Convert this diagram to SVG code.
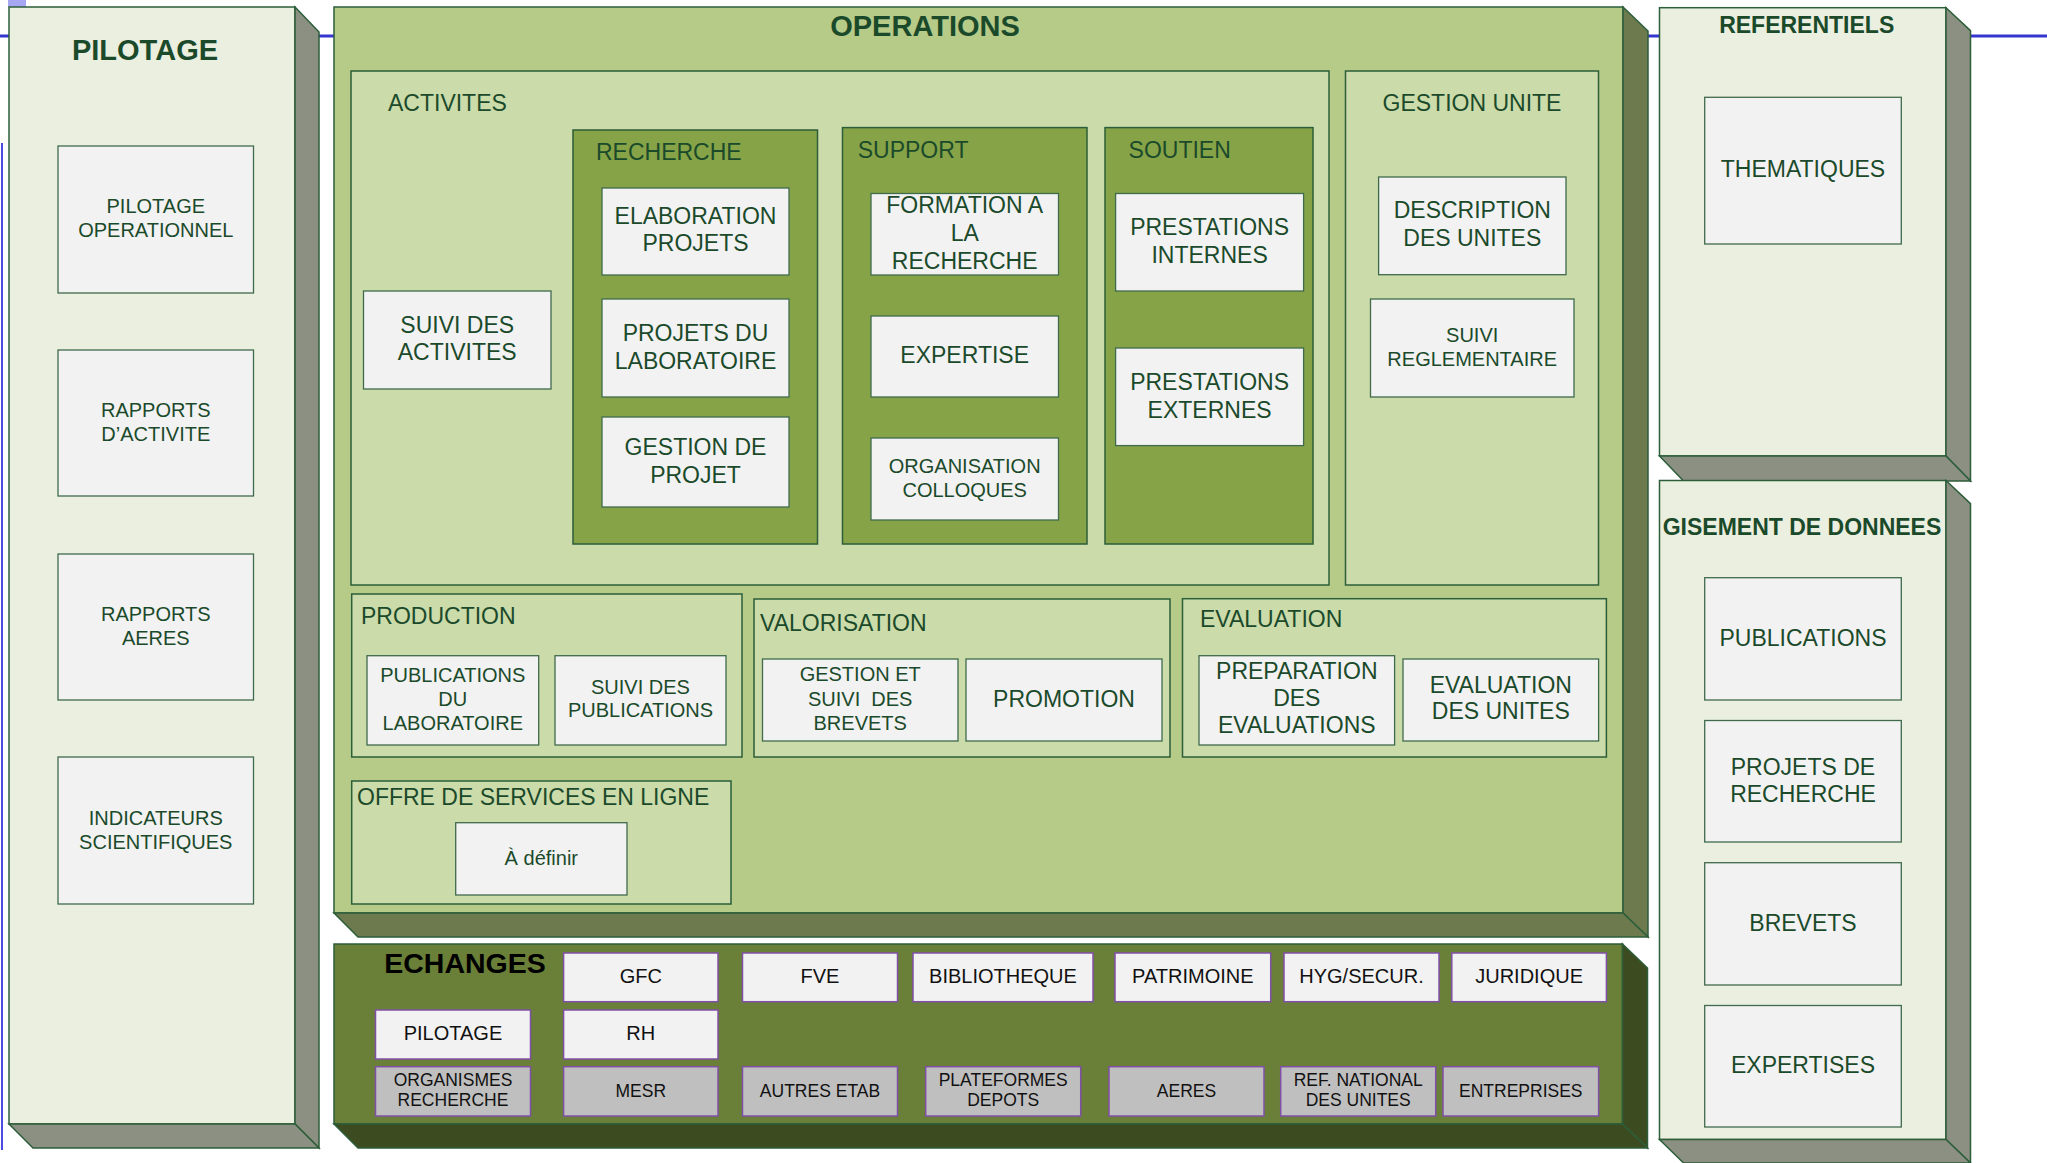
<svg xmlns="http://www.w3.org/2000/svg" width="2047" height="1163" viewBox="0 0 2047 1163">
<style>
text{font-family:"Liberation Sans",Arial,sans-serif;fill:#1B4A2B;text-anchor:middle}
.t{font-weight:bold;font-size:29px}
.t23b{font-weight:bold;font-size:23px}
.lbl{font-size:23px;text-anchor:start}
.f23{font-size:23px}
.f20{font-size:20px}
.e20{font-size:20px;fill:#111}
.e17{font-size:17.5px;fill:#111}
.front1{fill:#EBEFE0;stroke:#2C5E3A;stroke-width:1.5}
.side1{fill:#8C9082;stroke:#2C5E3A;stroke-width:1.5}
.frontO{fill:#B7CB89;stroke:#2C5E3A;stroke-width:1.5}
.sideO{fill:#6C7A4E;stroke:#2C5E3A;stroke-width:1.5}
.frontE{fill:#6A7F37;stroke:#2C5E3A;stroke-width:1.5}
.sideE{fill:#3C4C20;stroke:#2C5E3A;stroke-width:1.5}
.pan{fill:#CBDBA9;stroke:#2C5E3A;stroke-width:1.5}
.dpan{fill:#86A447;stroke:#2C5E3A;stroke-width:1.5}
.box{fill:#F2F2F2;stroke:#3F6B4C;stroke-width:1.3}
.ebox{fill:#F2F2F2;stroke:#8050A8;stroke-width:1.5}
.gbox{fill:#BFBFBF;stroke:#8050A8;stroke-width:1.5}
.blue{stroke:#3535D0;stroke-width:3;fill:none}
</style>

<g id="background-lines">
<rect x="8" y="0" width="18" height="7" fill="#A6A6F2"/>
<line class="blue" x1="0" y1="36" x2="2047" y2="36"/>
<line x1="2" y1="143" x2="2" y2="1150" stroke="#4B4BE0" stroke-width="2"/>
</g>

<g id="pilotage">
<rect class="front1" x="9" y="7" width="286" height="1117"/>
<polygon class="side1" points="295,7 319,32 319,1148 295,1124"/>
<polygon class="side1" points="9,1124 295,1124 319,1148 33,1148"/>
<text class="t" x="145" y="60">PILOTAGE</text>
</g>
<g id="pilotage-operationnel">
<rect class="box" x="58" y="146" width="195.5" height="147"/>
<text class="f20"><tspan x="155.8" y="213">PILOTAGE</tspan><tspan x="155.8" y="237">OPERATIONNEL</tspan></text>
</g>
<g id="rapports-activite">
<rect class="box" x="58" y="350" width="195.5" height="146"/>
<text class="f20"><tspan x="155.8" y="417">RAPPORTS</tspan><tspan x="155.8" y="441">D’ACTIVITE</tspan></text>
</g>
<g id="rapports-aeres">
<rect class="box" x="58" y="554" width="195.5" height="146"/>
<text class="f20"><tspan x="155.8" y="621">RAPPORTS</tspan><tspan x="155.8" y="645">AERES</tspan></text>
</g>
<g id="indicateurs">
<rect class="box" x="58" y="757" width="195.5" height="147"/>
<text class="f20"><tspan x="155.8" y="824.5">INDICATEURS</tspan><tspan x="155.8" y="848.5">SCIENTIFIQUES</tspan></text>
</g>

<g id="operations">
<rect class="frontO" x="334" y="7" width="1289" height="906"/>
<polygon class="sideO" points="1623,7 1648,31 1648,937 1623,913"/>
<polygon class="sideO" points="334,913 1623,913 1648,937 358,937"/>
<text class="t" x="925" y="36">OPERATIONS</text>
</g>

<g id="activites">
<rect class="pan" x="351" y="71" width="978" height="514"/>
<text class="lbl" x="388" y="111">ACTIVITES</text>
</g>
<g id="suivi-activites">
<rect class="box" x="363.5" y="291" width="187.5" height="98"/>
<text class="f23"><tspan x="457.2" y="333">SUIVI DES</tspan><tspan x="457.2" y="360">ACTIVITES</tspan></text>
</g>

<g id="recherche">
<rect class="dpan" x="573" y="130" width="244.5" height="414"/>
<text class="lbl" x="596" y="160">RECHERCHE</text>
</g>
<g id="elaboration-projets">
<rect class="box" x="602" y="188" width="187" height="87"/>
<text class="f23"><tspan x="695.5" y="224">ELABORATION</tspan><tspan x="695.5" y="251">PROJETS</tspan></text>
</g>
<g id="projets-laboratoire">
<rect class="box" x="602" y="299" width="187" height="98"/>
<text class="f23"><tspan x="695.5" y="341">PROJETS DU</tspan><tspan x="695.5" y="368.5">LABORATOIRE</tspan></text>
</g>
<g id="gestion-projet">
<rect class="box" x="602" y="417" width="187" height="90"/>
<text class="f23"><tspan x="695.5" y="455">GESTION DE</tspan><tspan x="695.5" y="482.5">PROJET</tspan></text>
</g>

<g id="support">
<rect class="dpan" x="842.5" y="127.6" width="244.5" height="416.4"/>
<text class="lbl" x="857.7" y="158">SUPPORT</text>
</g>
<g id="formation">
<rect class="box" x="871" y="193.5" width="187.5" height="81.5"/>
<text class="f23"><tspan x="964.7" y="212.6">FORMATION A</tspan><tspan x="964.7" y="241">LA</tspan><tspan x="964.7" y="269">RECHERCHE</tspan></text>
</g>
<g id="expertise">
<rect class="box" x="871" y="316" width="187.5" height="81"/>
<text class="f23"><tspan x="964.7" y="363">EXPERTISE</tspan></text>
</g>
<g id="organisation-colloques">
<rect class="box" x="871" y="438" width="187.5" height="82"/>
<text class="f20"><tspan x="964.7" y="473">ORGANISATION</tspan><tspan x="964.7" y="497">COLLOQUES</tspan></text>
</g>

<g id="soutien">
<rect class="dpan" x="1105" y="127.6" width="208" height="416.4"/>
<text class="lbl" x="1128.6" y="158">SOUTIEN</text>
</g>
<g id="prestations-internes">
<rect class="box" x="1115.6" y="193.5" width="188" height="97.5"/>
<text class="f23"><tspan x="1209.6" y="234.5">PRESTATIONS</tspan><tspan x="1209.6" y="263">INTERNES</tspan></text>
</g>
<g id="prestations-externes">
<rect class="box" x="1115.6" y="348" width="188" height="97.6"/>
<text class="f23"><tspan x="1209.6" y="390">PRESTATIONS</tspan><tspan x="1209.6" y="417.6">EXTERNES</tspan></text>
</g>

<g id="gestion-unite">
<rect class="pan" x="1345.5" y="71" width="253" height="514"/>
<text class="f23" x="1472" y="111">GESTION UNITE</text>
</g>
<g id="description-unites">
<rect class="box" x="1378.6" y="177" width="187.4" height="97.7"/>
<text class="f23"><tspan x="1472.3" y="218">DESCRIPTION</tspan><tspan x="1472.3" y="246">DES UNITES</tspan></text>
</g>
<g id="suivi-reglementaire">
<rect class="box" x="1370.5" y="299" width="203.5" height="98"/>
<text class="f20"><tspan x="1472.2" y="342">SUIVI</tspan><tspan x="1472.2" y="366">REGLEMENTAIRE</tspan></text>
</g>

<g id="production">
<rect class="pan" x="351.7" y="594" width="390.3" height="163"/>
<text class="lbl" x="361" y="624">PRODUCTION</text>
</g>
<g id="publications-laboratoire">
<rect class="box" x="367" y="655.7" width="171.7" height="89.3"/>
<text class="f20"><tspan x="452.8" y="681.7">PUBLICATIONS</tspan><tspan x="452.8" y="705.7">DU</tspan><tspan x="452.8" y="730">LABORATOIRE</tspan></text>
</g>
<g id="suivi-publications">
<rect class="box" x="555" y="655.7" width="171" height="89.3"/>
<text class="f20"><tspan x="640.5" y="694">SUIVI DES</tspan><tspan x="640.5" y="717">PUBLICATIONS</tspan></text>
</g>

<g id="valorisation">
<rect class="pan" x="754" y="599" width="416" height="158"/>
<text class="lbl" x="760" y="630.7">VALORISATION</text>
</g>
<g id="gestion-brevets">
<rect class="box" x="762.5" y="659" width="195.5" height="82"/>
<text class="f20" style="white-space:pre"><tspan x="860.2" y="681">GESTION ET</tspan><tspan x="860.2" y="705.7">SUIVI  DES</tspan><tspan x="860.2" y="730">BREVETS</tspan></text>
</g>
<g id="promotion">
<rect class="box" x="966" y="659" width="196" height="82"/>
<text class="f23" x="1064" y="706.7">PROMOTION</text>
</g>

<g id="evaluation">
<rect class="pan" x="1182.5" y="598.7" width="423.9" height="158.3"/>
<text class="lbl" x="1200" y="627">EVALUATION</text>
</g>
<g id="preparation-evaluations">
<rect class="box" x="1199" y="655.7" width="195.6" height="89.3"/>
<text class="f23"><tspan x="1296.8" y="678.7">PREPARATION</tspan><tspan x="1296.8" y="706">DES</tspan><tspan x="1296.8" y="733">EVALUATIONS</tspan></text>
</g>
<g id="evaluation-unites">
<rect class="box" x="1403" y="659" width="195.6" height="82"/>
<text class="f23"><tspan x="1500.8" y="692.7">EVALUATION</tspan><tspan x="1500.8" y="719">DES UNITES</tspan></text>
</g>

<g id="offre-services">
<rect class="pan" x="351.7" y="781" width="379.3" height="123"/>
<text class="lbl" x="357" y="805">OFFRE DE SERVICES EN LIGNE</text>
</g>
<g id="a-definir">
<rect class="box" x="455.7" y="822.7" width="171.3" height="72.3"/>
<text class="f20" x="541.3" y="865">À définir</text>
</g>

<g id="echanges">
<rect class="frontE" x="334" y="944" width="1288.5" height="180"/>
<polygon class="sideE" points="1622.5,944 1647.5,968 1647.5,1148 1622.5,1124"/>
<polygon class="sideE" points="334,1124 1622.5,1124 1647.5,1148 358,1148"/>
<text class="t" x="465" y="973" style="fill:#000;font-size:28.5px">ECHANGES</text>
</g>
<g id="e-gfc"><rect class="ebox" x="563.6" y="953" width="154.4" height="48.7"/><text class="e20" x="640.8" y="983">GFC</text></g>
<g id="e-fve"><rect class="ebox" x="742.5" y="953" width="155" height="48.7"/><text class="e20" x="820" y="983">FVE</text></g>
<g id="e-bibliotheque"><rect class="ebox" x="913" y="953" width="180" height="48.7"/><text class="e20" x="1003" y="983">BIBLIOTHEQUE</text></g>
<g id="e-patrimoine"><rect class="ebox" x="1115" y="953" width="155.7" height="48.7"/><text class="e20" x="1192.8" y="983">PATRIMOINE</text></g>
<g id="e-hygsecur"><rect class="ebox" x="1284" y="953" width="155" height="48.7"/><text class="e20" x="1361.5" y="983">HYG/SECUR.</text></g>
<g id="e-juridique"><rect class="ebox" x="1451.8" y="953" width="154.6" height="48.7"/><text class="e20" x="1529.1" y="983">JURIDIQUE</text></g>
<g id="e-pilotage"><rect class="ebox" x="375.5" y="1010" width="155" height="49"/><text class="e20" x="453" y="1040">PILOTAGE</text></g>
<g id="e-rh"><rect class="ebox" x="563.6" y="1010" width="154.4" height="49"/><text class="e20" x="640.8" y="1040">RH</text></g>
<g id="e-organismes"><rect class="gbox" x="375.5" y="1066.7" width="155" height="49.3"/><text class="e17"><tspan x="453" y="1085.7">ORGANISMES</tspan><tspan x="453" y="1105.7">RECHERCHE</tspan></text></g>
<g id="e-mesr"><rect class="gbox" x="563.6" y="1066.7" width="154.4" height="49.3"/><text class="e17" x="640.8" y="1097">MESR</text></g>
<g id="e-autres-etab"><rect class="gbox" x="742.5" y="1066.7" width="155" height="49.3"/><text class="e17" x="820" y="1097">AUTRES ETAB</text></g>
<g id="e-plateformes"><rect class="gbox" x="925.7" y="1066.7" width="155" height="49.3"/><text class="e17"><tspan x="1003.2" y="1085.7">PLATEFORMES</tspan><tspan x="1003.2" y="1105.7">DEPOTS</tspan></text></g>
<g id="e-aeres"><rect class="gbox" x="1109" y="1066.7" width="155" height="49.3"/><text class="e17" x="1186.5" y="1097">AERES</text></g>
<g id="e-ref-national"><rect class="gbox" x="1280.7" y="1066.7" width="155" height="49.3"/><text class="e17"><tspan x="1358.2" y="1085.7">REF. NATIONAL</tspan><tspan x="1358.2" y="1105.7">DES UNITES</tspan></text></g>
<g id="e-entreprises"><rect class="gbox" x="1443" y="1066.7" width="155.6" height="49.3"/><text class="e17" x="1520.8" y="1097">ENTREPRISES</text></g>

<g id="referentiels">
<rect class="front1" x="1659.5" y="7.7" width="286.5" height="448.3"/>
<polygon class="side1" points="1946,7.7 1970.5,30.6 1970.5,481 1946,456"/>
<polygon class="side1" points="1659.5,456 1946,456 1970.5,481 1683.6,481"/>
<text class="t23b" x="1806.7" y="32.6">REFERENTIELS</text>
</g>
<g id="thematiques">
<rect class="box" x="1704.7" y="97.3" width="196.6" height="146.7"/>
<text class="f23" x="1803" y="177">THEMATIQUES</text>
</g>

<g id="gisement">
<rect class="front1" x="1659.5" y="480.5" width="286.5" height="659"/>
<polygon class="side1" points="1946,480.5 1970.5,503.6 1970.5,1163 1946,1139.5"/>
<polygon class="side1" points="1659.5,1139.5 1946,1139.5 1970.5,1163 1683.6,1163"/>
<text class="t23b" x="1802" y="535">GISEMENT DE DONNEES</text>
</g>
<g id="g-publications">
<rect class="box" x="1704.7" y="577.7" width="196.6" height="122.3"/>
<text class="f23" x="1803" y="645.5">PUBLICATIONS</text>
</g>
<g id="g-projets">
<rect class="box" x="1704.7" y="720.5" width="196.6" height="121.5"/>
<text class="f23"><tspan x="1803" y="775">PROJETS DE</tspan><tspan x="1803" y="802">RECHERCHE</tspan></text>
</g>
<g id="g-brevets">
<rect class="box" x="1704.7" y="862.7" width="196.6" height="122.3"/>
<text class="f23" x="1803" y="931">BREVETS</text>
</g>
<g id="g-expertises">
<rect class="box" x="1704.7" y="1005.5" width="196.6" height="121.5"/>
<text class="f23" x="1803" y="1072.7">EXPERTISES</text>
</g>
</svg>
